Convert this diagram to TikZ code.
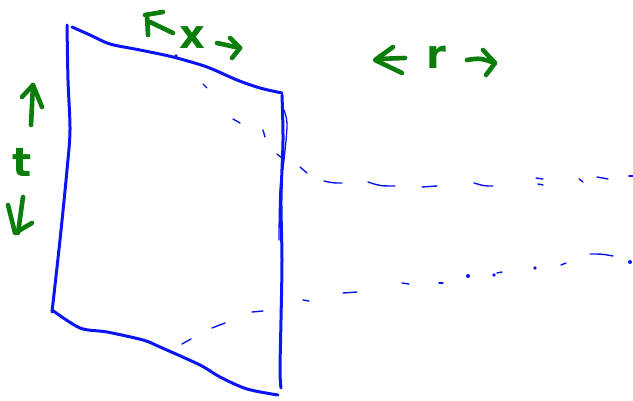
\documentclass[tikz,border=0pt]{standalone}
\usepackage{fontspec}
\setsansfont{DejaVu Sans}
\definecolor{penblue}{RGB}{10,20,245}
\definecolor{pengreen}{RGB}{10,125,10}
\tikzset{
  edge/.style={draw=penblue,line width=3pt,line cap=round,line join=round},
  thinedge/.style={draw=penblue,line width=1.3pt,line cap=round},
  dashmark/.style={draw=penblue,line width=1.4pt,line cap=round},
  dotmark/.style={fill=penblue},
  gstroke/.style={draw=pengreen,line width=4.6pt,line cap=round,line join=round},
  glabel/.style={text=pengreen,font=\sffamily\bfseries\fontsize{40}{40}\selectfont,inner sep=0pt}
}
\begin{document}
\begin{tikzpicture}[x=1pt,y=-1pt]
\useasboundingbox (0,0) rectangle (633,401);
% ---- square (blue) ----
\draw[edge] plot[smooth,tension=0.5] coordinates {(67,25) (68,80) (70,130) (67,170) (60,240) (52,312)};
\draw[edge] plot[smooth,tension=0.5] coordinates {(72,27) (90,35) (110,44) (140,50) (173,57) (207,67) (237,80) (260,88) (282,93)};
\draw[edge] plot[smooth,tension=0.5] coordinates {(282,95) (283,140) (281,200) (282,260) (281,320) (280,370) (281,388)};
\draw[thinedge] plot[smooth,tension=0.6] coordinates {(284,110) (287,125) (284,160) (280,190) (279,240)};
\draw[edge] plot[smooth,tension=0.5] coordinates {(52,310) (80,328) (107,332) (143,340) (160,347) (200,365) (220,377) (247,389) (278,395)};
\fill[dotmark] (176,56) circle (1.8);
% ---- upper dashed line ----
\draw[dashmark] (203,84) -- (207,88);
\draw[dashmark] (233,119) -- (240,123);
\draw[dashmark] (263,130) -- (265,137);
\draw[dashmark] (277,154) -- (282,158);
\draw[dashmark] (300,167) -- (307,173);
\draw[dashmark] (324,181) .. controls (333,183) .. (342,183);
\draw[dashmark] (368,182) .. controls (380,186) .. (395,186);
\draw[dashmark] (422,187) -- (437,186);
\draw[dashmark] (474,183) .. controls (484,186) .. (493,186);
\draw[dashmark] (536,178) -- (543,179);
\draw[dashmark] (538,184) -- (543,185);
\draw[dashmark] (579,179) -- (583,182);
\draw[dashmark] (597,177) -- (608,179);
\draw[dashmark] (629,176) -- (633,176);
% ---- lower dashed line ----
\draw[dashmark] (182,344) -- (191,339);
\draw[dashmark] (212,328) -- (225,323);
\draw[dashmark] (252,312) -- (263,311);
\draw[dashmark] (303,300) -- (309,301);
\draw[dashmark] (343,293) -- (357,292);
\draw[dashmark] (402,283) -- (409,284);
\draw[dashmark] (439,283) -- (443,283);
\fill[dotmark] (468,276) circle (2);
\fill[dotmark] (494,275) circle (1.8);
\draw[dashmark] (497,273) -- (502,272);
\fill[dotmark] (535,268) circle (1.8);
\draw[dashmark] (561,265) -- (566,263);
\draw[dashmark] (590,254) .. controls (602,254) .. (613,256);
\fill[dotmark] (630,262) circle (2);
% ---- x label ----
\draw[gstroke] (145,15) -- (163,12);
\draw[gstroke] (147,15) -- (148,35);
\draw[gstroke] (150,22) -- (173,33);
\node[glabel] (xlab) at (192,38) {x};
\draw[gstroke] (217,43) -- (240,48);
\draw[gstroke] (230,38) -- (240,48) -- (232,58);
% ---- r label ----
\draw[gstroke] (393,47) -- (375,60) -- (402,73);
\draw[gstroke] (377,59) -- (405,58);
\node[glabel] (rlab) at (436,57) {r};
\draw[gstroke] (467,60) .. controls (480,58) .. (495,63);
\draw[gstroke] (483,50) -- (495,63) -- (486,75);
% ---- t label ----
\draw[gstroke] (31,125) -- (33,85);
\draw[gstroke] (22,97) -- (33,85) -- (42,107);
\node[glabel] (tlab) at (22,162) {t};
\draw[gstroke] (23,197) -- (18,233);
\draw[gstroke] (8,205) -- (15,233) -- (32,223);
\end{tikzpicture}
\end{document}
